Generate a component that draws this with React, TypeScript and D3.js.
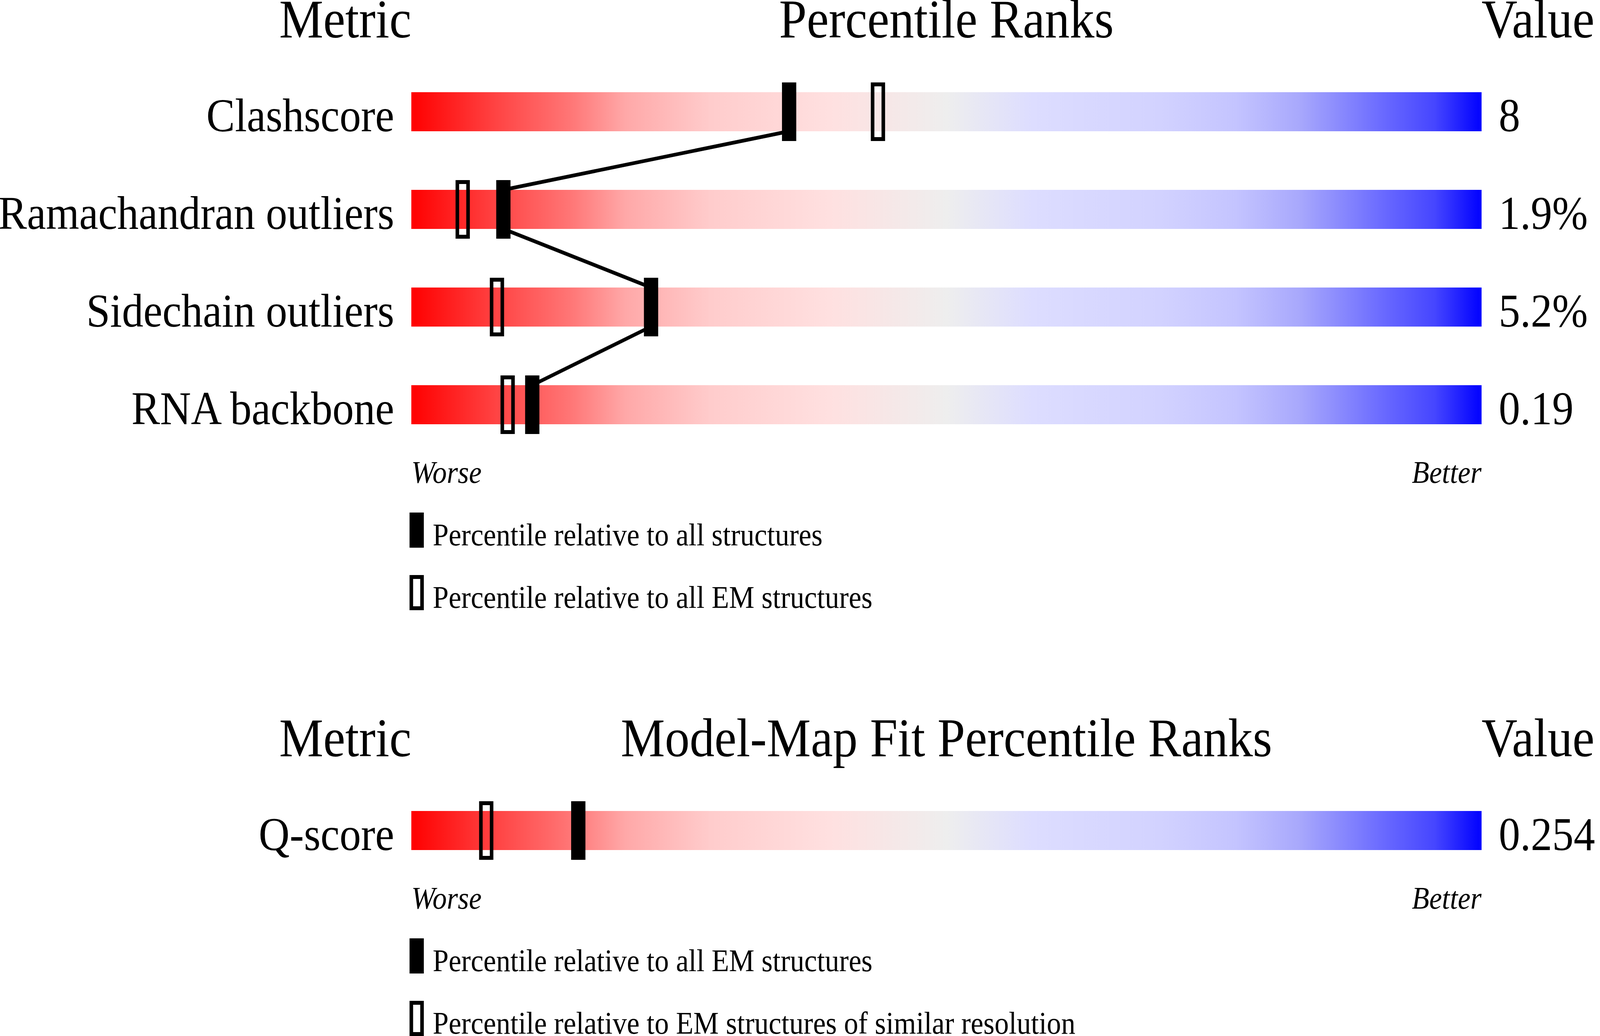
import React from "react";
import * as d3 from "d3";

// ---- data ----
const metrics = ["Clashscore", "Ramachandran outliers", "Sidechain outliers", "RNA backbone"];
const metricValues = ["8", "1.9%", "5.2%", "0.19"];
const pctAllStructures = [35.3, 8.6, 22.4, 11.3];
const pctAllEM = [43.6, 4.8, 8.0, 9.0];

const fitMetrics = ["Q-score"];
const fitValues = ["0.254"];
const fitPctAllEM = [15.6];
const fitPctSimilarRes = [7.0];

const legendTop = ["Percentile relative to all structures", "Percentile relative to all EM structures"];
const legendBottom = ["Percentile relative to all EM structures", "Percentile relative to EM structures of similar resolution"];

const gradientStops: [number, string][] = [
  [0, "#ff0000"],
  [0.08, "#ff4444"],
  [0.15, "#ff7777"],
  [0.2, "#ffa8a8"],
  [0.28, "#ffcccc"],
  [0.39, "#ffe0e0"],
  [0.5, "#eeeeee"],
  [0.58, "#ddddff"],
  [0.7, "#d2d2ff"],
  [0.77, "#c4c4ff"],
  [0.83, "#a8a8fc"],
  [0.91, "#6868ff"],
  [0.956, "#4646ff"],
  [1, "#0000ff"],
];

const W = 4485;
const H = 2652;
const FONT = "'Liberation Serif', 'Times New Roman', Times, serif";

const x = d3.scaleLinear().domain([0, 100]).range([1153, 4153]);
const BAR_H = 100;

type PanelProps = {
  top: number;
  title: string;
  names: string[];
  values: string[];
  solid: number[];
  open: number[];
  legend: string[];
};

function Panel({ top, title, names, values, solid, open, legend }: PanelProps) {
  const y = d3
    .scalePoint<string>()
    .domain(names)
    .range([top, top + (names.length - 1) * 250]);
  const lastBottom = (y(names[names.length - 1]) as number) + BAR_H;
  const [x0, x1] = x.range();

  const segs: { x1: number; y1: number; x2: number; y2: number }[] = [];
  for (let i = 0; i < names.length - 1; i++) {
    segs.push({
      x1: x(solid[i]),
      y1: (y(names[i]) as number) + BAR_H,
      x2: x(solid[i + 1]),
      y2: y(names[i + 1]) as number,
    });
  }
  const line = d3.line<[number, number]>();

  return (
    <g>
      <text x={x0} y={top - 140} fontSize={139} textAnchor="end" fontFamily={FONT}>Metric</text>
      <text x={(x0 + x1) / 2} y={top - 140} fontSize={139} textAnchor="middle" fontFamily={FONT}>{title}</text>
      <text x={x1} y={top - 140} fontSize={139} textAnchor="start" fontFamily={FONT}>Value</text>

      {names.map((n, i) => {
        const yy = y(n) as number;
        return (
          <g key={n}>
            <text x={1105} y={yy + BAR_H} fontSize={120} textAnchor="end" fontFamily={FONT}>{n}</text>
            <rect x={x0} y={yy} width={x1 - x0} height={BAR_H} fill="url(#pctGrad)" />
            <text x={4201} y={yy + BAR_H} fontSize={120} textAnchor="start" fontFamily={FONT}>{values[i]}</text>
          </g>
        );
      })}

      {segs.map((s, i) => (
        <path
          key={"seg" + i}
          d={line([[s.x1, s.y1], [s.x2, s.y2]]) || ""}
          stroke="#000"
          strokeWidth={9.5}
          fill="none"
        />
      ))}

      {names.map((n, i) => {
        const yy = y(n) as number;
        return (
          <g key={"m" + n}>
            <rect x={x(open[i]) - 15} y={yy - 20} width={30} height={140} fill="none" stroke="#000" strokeWidth={10} />
            <rect x={x(solid[i]) - 20} y={yy - 25} width={40} height={150} fill="#000" />
          </g>
        );
      })}

      <text x={x0} y={lastBottom + 150} fontSize={80} fontStyle="italic" textAnchor="start" fontFamily={FONT}>Worse</text>
      <text x={x1} y={lastBottom + 150} fontSize={80} fontStyle="italic" textAnchor="end" fontFamily={FONT}>Better</text>

      {legend.map((t, i) => {
        const ly = lastBottom + 226 + i * 160;
        return (
          <g key={"lg" + i}>
            {i === 0 ? (
              <rect x={1148} y={ly} width={40} height={90} fill="#000" />
            ) : (
              <rect x={1153} y={ly + 5} width={30} height={80} fill="none" stroke="#000" strokeWidth={10} />
            )}
            <text x={1213} y={ly + 84.5} fontSize={80} fontFamily={FONT}>{t}</text>
          </g>
        );
      })}
    </g>
  );
}

export default function App() {
  return (
    <div style={{ position: "fixed", left: 0, top: 0, width: "100vw", height: "100vh", overflow: "hidden", background: "#fff" }}>
      <svg
        width="100%"
        height="100%"
        viewBox={`0 0 ${W} ${H}`}
        preserveAspectRatio="none"
        style={{ display: "block" }}
      >
        <defs>
          <linearGradient id="pctGrad" x1="0" x2="1" y1="0" y2="0">
            {gradientStops.map(([o, c]) => (
              <stop key={o} offset={o} stopColor={c} />
            ))}
          </linearGradient>
        </defs>
        <rect x={0} y={0} width={W} height={H} fill="#fff" />
        <Panel
          top={236}
          title="Percentile Ranks"
          names={metrics}
          values={metricValues}
          solid={pctAllStructures}
          open={pctAllEM}
          legend={legendTop}
        />
        <Panel
          top={2076}
          title="Model-Map Fit Percentile Ranks"
          names={fitMetrics}
          values={fitValues}
          solid={fitPctAllEM}
          open={fitPctSimilarRes}
          legend={legendBottom}
        />
      </svg>
    </div>
  );
}
